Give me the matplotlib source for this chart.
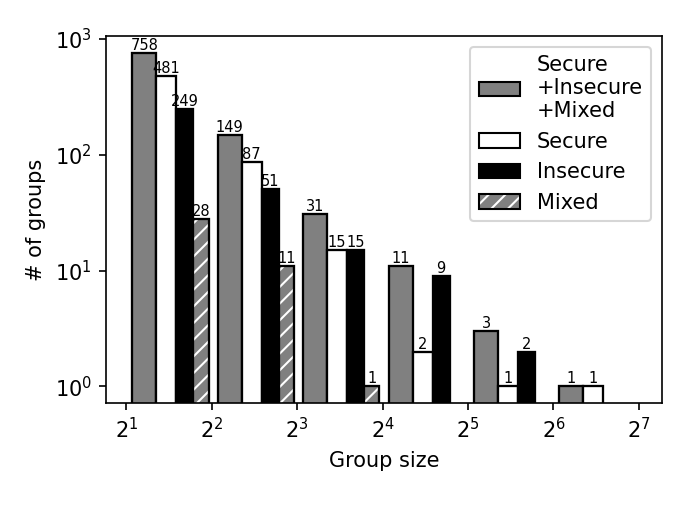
import matplotlib.pyplot as plt
import numpy as np
from matplotlib.patches import Patch

# group sizes are powers of two: 2^1 .. 2^6
exponents = [1, 2, 3, 4, 5, 6]
total = [758, 149, 31, 11, 3, 1]
secure = [481, 87, 15, 2, 1, 1]
insecure = [249, 51, 15, 9, 2, 0]
mixed = [28, 11, 1, 0, 0, 0]

series = [
    (total, "gray", ""),
    (secure, "white", ""),
    (insecure, "black", ""),
    (mixed, "gray", "///"),
]

fig = plt.figure(figsize=(4.6, 3.4), dpi=150)
ax = fig.add_axes([0.154, 0.21, 0.805, 0.719])
ax.set_xscale("log", base=2)
ax.set_yscale("log")

base = 2.0 ** np.array(exponents)
width = 0.225 * base
for i, (vals, color, hatch) in enumerate(series):
    vals = np.array(vals, dtype=float)
    left = base * 1.05 + i * width
    mask = vals > 0
    if hatch:
        ax.bar(left[mask], vals[mask], width=width[mask], align="edge",
               color=color, edgecolor="white", hatch=hatch, linewidth=0)
        ax.bar(left[mask], vals[mask], width=width[mask], align="edge",
               fill=False, edgecolor="black", linewidth=1.1)
    else:
        ax.bar(left[mask], vals[mask], width=width[mask], align="edge",
               color=color, edgecolor="black", linewidth=1.1)
    for x, w, v in zip(left[mask], width[mask], vals[mask]):
        ax.text(x * np.sqrt((x + w) / x), v, "%d" % v, ha="center",
                va="bottom", fontsize=7)

ax.set_xlim(1.70, 154)
ax.set_ylim(0.72, 1057)
ax.set_xticks([2.0 ** k for k in range(1, 8)])
ax.set_xticklabels([r"$2^{%d}$" % k for k in range(1, 8)])
ax.tick_params(labelsize=10)
ax.minorticks_off()
ax.set_xlabel("Group size", fontsize=10)
ax.set_ylabel("# of groups", fontsize=10)

handles = [
    Patch(facecolor="gray", edgecolor="black"),
    Patch(facecolor="white", edgecolor="black"),
    Patch(facecolor="black", edgecolor="black"),
    (Patch(facecolor="gray", edgecolor="white", hatch="///", linewidth=0),
     Patch(fill=False, edgecolor="black")),
]
labels = ["Secure\n+Insecure\n+Mixed", "Secure", "Insecure", "Mixed"]
ax.legend(handles, labels, loc="upper right", fontsize=10)

fig.savefig("out.png")
